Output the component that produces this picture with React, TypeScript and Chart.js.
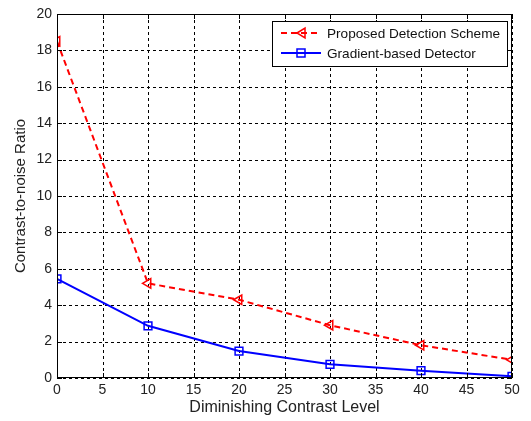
import React, { useEffect, useRef } from "react";
import { Chart, registerables } from "chart.js";

Chart.register(...registerables);

const levels = [0, 10, 20, 30, 40, 50];
const proposed = [18.5, 5.2, 4.3, 2.9, 1.8, 1.0];
const gradient = [5.45, 2.87, 1.48, 0.75, 0.4, 0.09];
const seriesLabels = ["Proposed Detection Scheme", "Gradient-based Detector"];
const xTitle = "Diminishing Contrast Level";
const yTitle = "Contrast-to-noise Ratio";

const FONT = "Arial, 'Liberation Sans', sans-serif";

const frame = {
  id: "frame",
  beforeDatasetsDraw(chart: any) {
    const { ctx, chartArea: a, scales } = chart;
    ctx.save();
    ctx.strokeStyle = "#000";
    ctx.lineWidth = 1;
    ctx.setLineDash([3, 3]);
    ctx.beginPath();
    scales.x.ticks.forEach((t: any) => {
      const px = Math.round(scales.x.getPixelForValue(t.value)) + 0.5;
      ctx.moveTo(px, a.top);
      ctx.lineTo(px, a.bottom);
    });
    scales.y.ticks.forEach((t: any) => {
      const py = Math.round(scales.y.getPixelForValue(t.value)) + 0.5;
      ctx.moveTo(a.left, py);
      ctx.lineTo(a.right, py);
    });
    ctx.stroke();
    ctx.restore();
  },
  afterDatasetsDraw(chart: any) {
    const { ctx, chartArea: a, scales } = chart;
    ctx.save();
    ctx.strokeStyle = "#000";
    ctx.lineWidth = 1;
    ctx.setLineDash([]);
    ctx.strokeRect(a.left + 0.5, a.top + 0.5, a.right - a.left - 1, a.bottom - a.top - 1);
    const tl = 5;
    ctx.beginPath();
    scales.x.ticks.forEach((t: any) => {
      const px = Math.round(scales.x.getPixelForValue(t.value)) + 0.5;
      ctx.moveTo(px, a.bottom);
      ctx.lineTo(px, a.bottom - tl);
      ctx.moveTo(px, a.top);
      ctx.lineTo(px, a.top + tl);
    });
    scales.y.ticks.forEach((t: any) => {
      const py = Math.round(scales.y.getPixelForValue(t.value)) + 0.5;
      ctx.moveTo(a.left, py);
      ctx.lineTo(a.left + tl, py);
      ctx.moveTo(a.right, py);
      ctx.lineTo(a.right - tl, py);
    });
    ctx.stroke();

    // legend
    const bx = 272.5, by = 21.5, bw = 235, bh = 45;
    ctx.fillStyle = "#fff";
    ctx.fillRect(bx, by, bw, bh);
    ctx.strokeStyle = "#000";
    ctx.strokeRect(bx, by, bw, bh);
    chart.data.datasets.forEach((ds: any, i: number) => {
      const y = 33 + i * 20;
      ctx.strokeStyle = ds.borderColor;
      ctx.lineWidth = 2;
      ctx.setLineDash(ds.borderDash || []);
      ctx.beginPath();
      ctx.moveTo(281, y);
      ctx.lineTo(321, y);
      ctx.stroke();
      ctx.setLineDash([]);
      ctx.lineWidth = 1.5;
      ctx.beginPath();
      if (i === 0) {
        ctx.moveTo(297, y);
        ctx.lineTo(305, y - 5);
        ctx.lineTo(305, y + 5);
        ctx.closePath();
      } else {
        ctx.rect(297, y - 4, 8, 8);
      }
      ctx.stroke();
      ctx.fillStyle = "#111";
      ctx.font = "13.6px " + FONT;
      ctx.textBaseline = "middle";
      ctx.textAlign = "left";
      ctx.fillText(ds.label, 327, y + 1);
    });
    ctx.restore();
  },
};

export default function App() {
  const ref = useRef<HTMLCanvasElement>(null);
  useEffect(() => {
    const chart = new Chart(ref.current!, {
      type: "line",
      data: {
        labels: levels,
        datasets: [
          {
            label: seriesLabels[0],
            data: levels.map((x, i) => ({ x, y: proposed[i] })),
            borderColor: "#ff0000",
            borderWidth: 2,
            borderDash: [6, 4],
            pointStyle: "triangle",
            pointRotation: -90,
            pointRadius: 5.5,
            pointBorderWidth: 1.5,
            pointBackgroundColor: "rgba(0,0,0,0)",
            pointBorderColor: "#ff0000",
            tension: 0,
          },
          {
            label: seriesLabels[1],
            data: levels.map((x, i) => ({ x, y: gradient[i] })),
            borderColor: "#0000ff",
            borderWidth: 2,
            pointStyle: "rect",
            pointRadius: 5.5,
            pointBorderWidth: 1.5,
            pointBackgroundColor: "rgba(0,0,0,0)",
            pointBorderColor: "#0000ff",
            tension: 0,
          },
        ],
      },
      options: {
        animation: false,
        responsive: false,
        maintainAspectRatio: false,
        layout: { padding: { top: 14, right: 19, left: 0, bottom: 0 } },
        plugins: { legend: { display: false }, tooltip: { enabled: false } },
        scales: {
          x: {
            type: "linear",
            min: 0,
            max: 50,
            ticks: { stepSize: 5, color: "#222", font: { size: 14, family: FONT }, padding: 4, maxRotation: 0 },
            grid: { display: false, drawTicks: false, tickLength: 0 },
            border: { display: false },
            title: { display: true, text: xTitle, color: "#222", font: { size: 16, family: FONT }, padding: { top: 4 } },
            afterFit: (s: any) => { s.height = 43; },
          },
          y: {
            min: 0,
            max: 20,
            ticks: { stepSize: 2, color: "#222", font: { size: 14, family: FONT }, padding: 5 },
            grid: { display: false, drawTicks: false, tickLength: 0 },
            border: { display: false },
            title: { display: true, text: yTitle, color: "#222", font: { size: 15, family: FONT }, padding: { top: 12, bottom: 4 } },
            afterFit: (s: any) => { s.width = 57; },
          },
        },
      },
      plugins: [frame],
    } as any);
    return () => chart.destroy();
  }, []);
  return (
    <div style={{ position: "fixed", left: 0, top: 0, width: 531, height: 421, background: "#fff" }}>
      <canvas ref={ref} width={531} height={421} />
    </div>
  );
}
